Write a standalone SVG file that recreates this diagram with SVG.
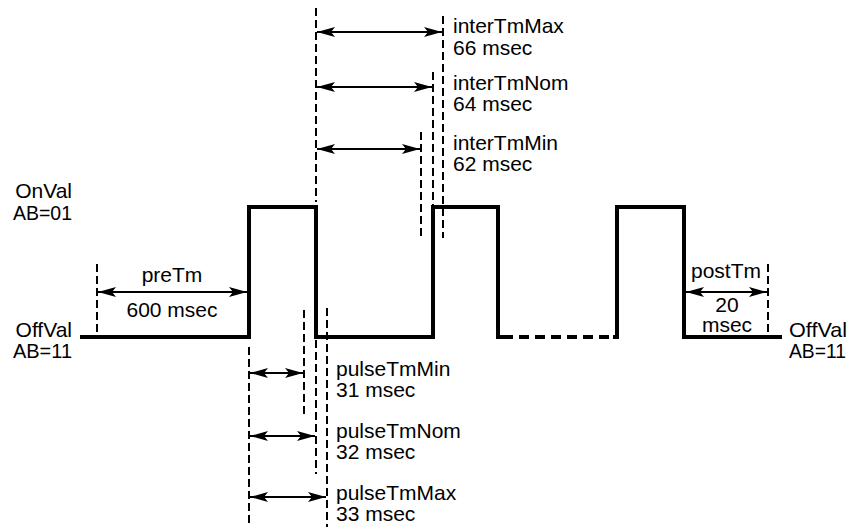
<svg xmlns="http://www.w3.org/2000/svg" width="850" height="527" viewBox="0 0 850 527">
<defs>
<marker id="ah" viewBox="0 0 18 10" markerUnits="userSpaceOnUse" markerWidth="18" markerHeight="10" refX="18" refY="5" orient="auto-start-reverse">
<path d="M0,0 L18,5 L0,10 L4,5 Z" fill="#000"/>
</marker>
<style>
.t{font-family:"Liberation Sans",Arial,Helvetica,sans-serif;font-size:21px;fill:#000}
.m{text-anchor:middle}
.e{text-anchor:end}
.w{fill:none;stroke:#000;stroke-width:4;stroke-linejoin:miter;stroke-linecap:butt}
.d{fill:none;stroke:#000;stroke-width:2;stroke-dasharray:8 4}
.a{fill:none;stroke:#000;stroke-width:2.2;marker-start:url(#ah);marker-end:url(#ah)}
</style>
</defs>
<rect width="850" height="527" fill="#fff"/>
<g id="waveform">
<path class="w" d="M80,337 H249 V207 H316 V337 H433 V207 H498 V337 H513"/>
<path class="w" d="M513,337 H617" style="stroke-dasharray:10 6;stroke-dashoffset:-6"/>
<path class="w" d="M613,337 H617 V207 H684 V337 H782"/>
</g>
<g id="connectors">
<line class="d" x1="316" y1="8" x2="316" y2="202"/>
<line class="d" x1="443" y1="16" x2="443" y2="238"/>
<line class="d" x1="433" y1="72" x2="433" y2="205"/>
<line class="d" x1="421" y1="132" x2="421" y2="236"/>
<line class="d" x1="97" y1="264" x2="97" y2="335"/>
<line class="d" x1="768" y1="264" x2="768" y2="335"/>
<line class="d" x1="249" y1="347" x2="249" y2="527"/>
<line class="d" x1="304" y1="310" x2="304" y2="414"/>
<line class="d" x1="316" y1="340" x2="316" y2="474"/>
<line class="d" x1="327" y1="308" x2="327" y2="527"/>
<line class="a" x1="317" y1="32" x2="442" y2="32"/>
<line class="a" x1="317" y1="87" x2="432" y2="87"/>
<line class="a" x1="317" y1="149" x2="420" y2="149"/>
<line class="a" x1="98" y1="292" x2="247" y2="292"/>
<line class="a" x1="686" y1="292" x2="767" y2="292"/>
<line class="a" x1="250" y1="373" x2="303" y2="373"/>
<line class="a" x1="250" y1="436" x2="315" y2="436"/>
<line class="a" x1="250" y1="497" x2="326" y2="497"/>
</g>
<g id="labels">
<text class="t e" x="72" y="198">OnVal</text>
<text class="t" x="13" y="220" textLength="59" lengthAdjust="spacingAndGlyphs">AB=01</text>
<text class="t e" x="72" y="337">OffVal</text>
<text class="t" x="13" y="358" textLength="59" lengthAdjust="spacingAndGlyphs">AB=11</text>
<text class="t" x="789" y="337" textLength="58" lengthAdjust="spacingAndGlyphs">OffVal</text>
<text class="t" x="789" y="358" textLength="57" lengthAdjust="spacingAndGlyphs">AB=11</text>
<text class="t m" x="172" y="282">preTm</text>
<text class="t m" x="172" y="317">600 msec</text>
<text class="t m" x="726" y="278">postTm</text>
<text class="t m" x="727" y="312">20<tspan x="727" dy="20">msec</tspan></text>
<text class="t" x="453" y="33">interTmMax</text>
<text class="t" x="453" y="55">66 msec</text>
<text class="t" x="453" y="90">interTmNom</text>
<text class="t" x="453" y="111">64 msec</text>
<text class="t" x="453" y="150">interTmMin</text>
<text class="t" x="453" y="171">62 msec</text>
<text class="t" x="336" y="376">pulseTmMin</text>
<text class="t" x="336" y="397">31 msec</text>
<text class="t" x="336" y="438">pulseTmNom</text>
<text class="t" x="336" y="459">32 msec</text>
<text class="t" x="336" y="500">pulseTmMax</text>
<text class="t" x="336" y="521">33 msec</text>
</g>
</svg>
